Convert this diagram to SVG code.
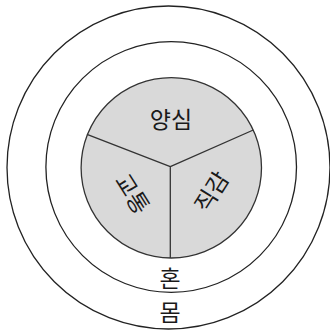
<svg xmlns="http://www.w3.org/2000/svg" width="330" height="332" viewBox="0 0 330 332">
<style>
.ring{fill:none;stroke:#222;stroke-width:1.3}
.core{fill:#d9d9d9;stroke:#333;stroke-width:1.3}
.div{stroke:#333;stroke-width:1.3;fill:none}
.t{font-family:"Noto Sans CJK KR","Noto Sans",sans-serif;font-size:23px;font-weight:400;fill:#1a1a1a;text-anchor:middle}
</style>
<rect width="330" height="332" fill="#fff"/>
<g id="body"><circle class="ring" cx="168.5" cy="167.5" r="161.5"/><text class="t" x="170" y="321">몸</text></g>
<g id="soul"><circle class="ring" cx="171.2" cy="167" r="125.3"/><text class="t" x="170" y="287">혼</text></g>
<g id="spirit"><circle class="core" cx="171.3" cy="167.8" r="90.2"/></g>
<g id="connectors">
<path class="div" d="M170.3 166.7 L87 134.3 M170.3 166.7 L253.3 130 M170.3 166.7 L170.3 258"/>
</g>
<g id="conscience"><text class="t" x="171" y="128">양심</text></g>
<g id="communion"><text class="t" transform="translate(132 194) rotate(58)" x="0" y="8">교통</text></g>
<g id="intuition"><text class="t" transform="translate(212 192) rotate(-58)" x="0" y="8">직감</text></g>
</svg>
